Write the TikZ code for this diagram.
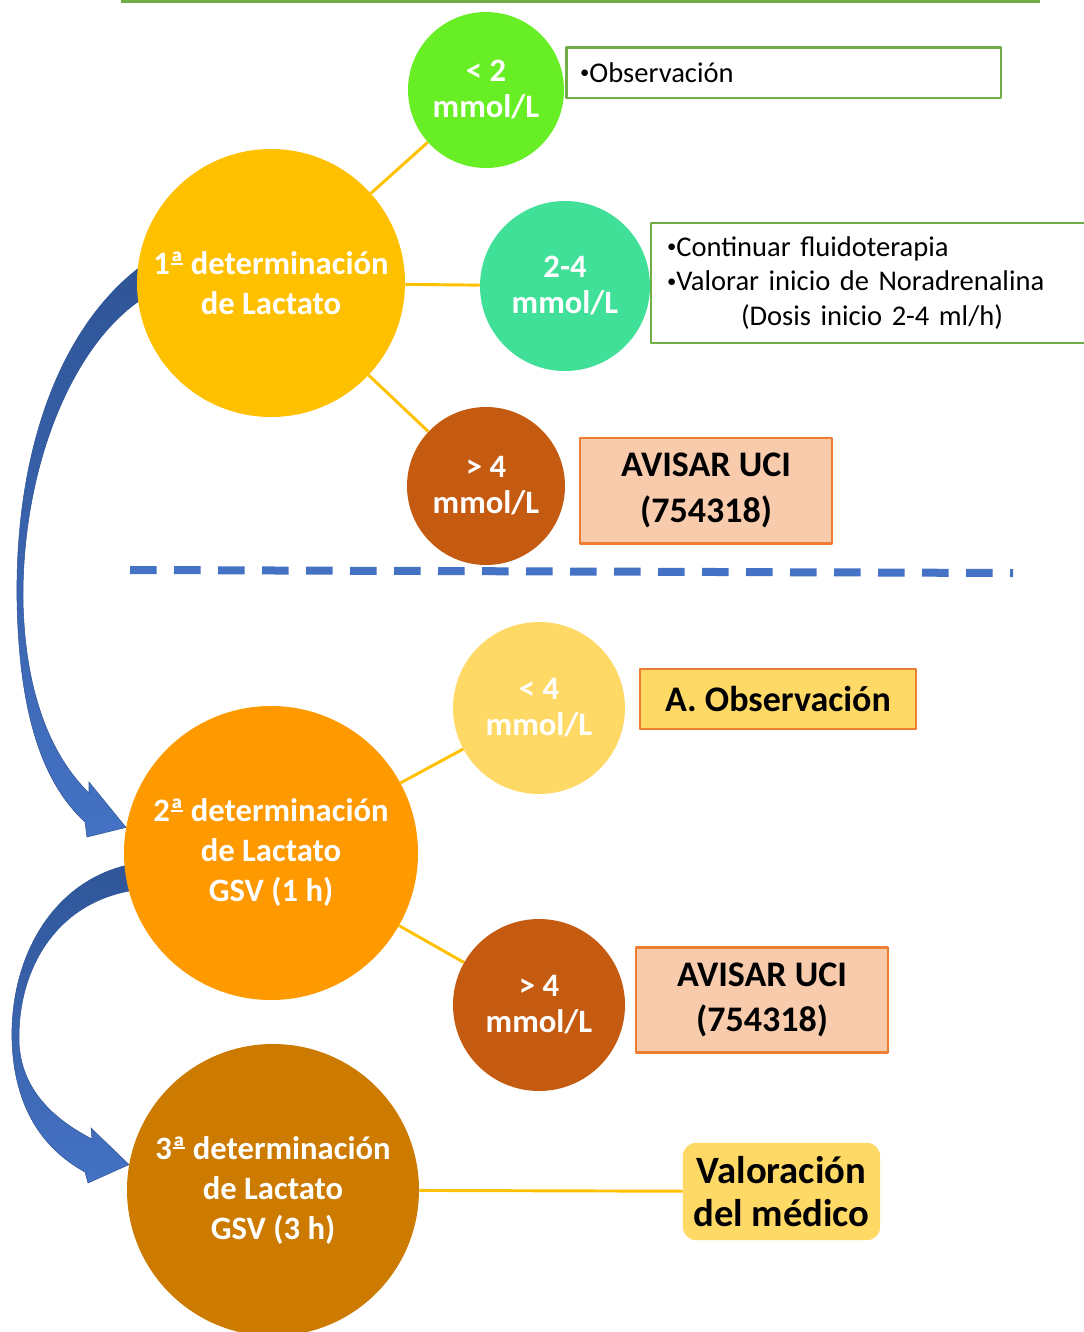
\documentclass[tikz,border=0pt]{standalone}
\usepackage{fontspec}
\setmainfont{Carlito}
\usetikzlibrary{backgrounds}
\definecolor{cgreen}{RGB}{104,238,36}
\definecolor{cteal}{RGB}{64,224,152}
\definecolor{cyel}{RGB}{255,192,0}
\definecolor{corg}{RGB}{255,153,0}
\definecolor{cbrown}{RGB}{204,122,0}
\definecolor{crust}{RGB}{197,90,17}
\definecolor{clight}{RGB}{255,217,102}
\definecolor{bgreen}{RGB}{112,173,71}
\definecolor{bpeach}{RGB}{248,203,173}
\definecolor{borange}{RGB}{237,125,49}
\definecolor{cblue}{RGB}{68,114,196}
\definecolor{cdark}{RGB}{47,85,151}
\newcommand\bul{\raisebox{2.5pt}{\fontsize{14}{14}\selectfont•}}
\newcommand\ordA{\ooalign{ª\cr\hfil\raisebox{0.3em}{\rule{0.36em}{0.06em}}\hfil\cr}}
\begin{document}
\begin{tikzpicture}[x=0.75pt,y=-0.75pt,line join=round,
    det/.style={circle,inner sep=0pt,text=white,align=center,
      font=\bfseries\fontsize{24.5}{30}\selectfont},
    lev/.style={circle,inner sep=0pt,text=white,align=center,
      font=\bfseries\fontsize{24.5}{27}\selectfont},
    note/.style={draw=bgreen,line width=2pt,fill=white,align=left,
      font=\fontsize{21.4}{26}\selectfont},
    uci/.style={draw=borange,fill=bpeach,line width=2pt,align=center,
      minimum width=189pt,minimum height=79pt,
      font=\bfseries\fontsize{27}{34}\selectfont},
    link/.style={draw=cyel,line width=2.2pt},
    bendarrow/.style={top color=cdark,bottom color=cblue,draw=cdark,line width=0.4pt}]
  \useasboundingbox (0,0) rectangle (1083,1332);

  % upper block
  \draw[bgreen,line width=2.5pt] (121,1) -- (1040,1);
  \node[det,fill=cyel,minimum size=201pt] (det1) at (271,283) {1\ordA{} determinación\\de Lactato};
  \node[lev,fill=cgreen,minimum size=117pt] (lt2) at (486,90) {< 2\\mmol/L};
  \node[lev,fill=cteal,minimum size=127.5pt] (mid) at (565,286) {2-4\\mmol/L};
  \node[lev,fill=crust,minimum size=118.5pt] (gtA) at (486,486) {> 4\\mmol/L};
  \node[note,minimum width=326pt,minimum height=38pt,text width=305pt,inner xsep=10.5pt]
    (obs) at (783.5,72.5) {\bul Observación};
  \node[note,minimum width=333pt,minimum height=90pt,text width=309pt,inner xsep=12pt]
    (fluid) at (873,283) {\bul Continuar fluidoterapia\\\bul Valorar inicio de Noradrenalina\\\hspace*{55.5pt}(Dosis inicio 2-4 ml/h)};
  \node[uci] (uciA) at (706,490.5) {AVISAR UCI\\(754318)};
  \draw[link] (det1) -- (lt2);
  \draw[link] (det1) -- (mid);
  \draw[link] (det1) -- (gtA);

  \draw[cblue,line width=6pt,dash pattern=on 20pt off 13pt] (130,570) -- (1013,573);

  % lower block
  \node[det,fill=corg,minimum size=220.5pt] (det2) at (271,853) {2\ordA{} determinación\\de Lactato\\GSV (1 h)};
  \node[lev,fill=clight,minimum size=129pt] (lt4) at (539,708) {< 4\\mmol/L};
  \node[lev,fill=crust,minimum size=129pt] (gtB) at (539,1005) {> 4\\mmol/L};
  \node[draw=borange,fill=clight,line width=2pt,minimum width=207pt,minimum height=45pt,
    font=\bfseries\fontsize{27}{34}\selectfont] (obsA) at (778,699) {A. Observación};
  \node[uci] (uciB) at (762,1000) {AVISAR UCI\\(754318)};
  \draw[link] (det2) -- (lt4);
  \draw[link] (det2) -- (gtB);

  \node[det,fill=cbrown,minimum size=219pt] (det3) at (273,1190) {3\ordA{} determinación\\de Lactato\\GSV (3 h)};
  \node[fill=clight,rounded corners=10pt,minimum width=148pt,minimum height=73pt,align=center,
    font=\bfseries\fontsize{29}{32}\selectfont] (valor) at (781.5,1191.5) {Valoración\\del médico};
  \draw[link] (det3) -- (valor);

  % curved arrows behind the circles
  \begin{pgfonlayer}{background}
    \path[bendarrow] (det1.174) .. controls (60,330) and (15,450) .. (17,600)
      .. controls (19,720) and (45,785) .. (85,822) -- (87,837) -- (det2.170)
      -- (89,782) -- (89,793) .. controls (55,760) and (25,700) .. (23,600)
      .. controls (22,470) and (70,350) .. (det1.188) -- (det1.center) -- cycle;
    \path[bendarrow] (det2.185) .. controls (50,885) and (10,960) .. (12,1040)
      .. controls (14,1110) and (45,1150) .. (85,1172) -- (88,1183) -- (det3.170)
      -- (91,1128) -- (92,1139) .. controls (55,1120) and (20,1090) .. (19,1040)
      .. controls (18,970) and (55,905) .. (det2.195) -- (det2.center) -- cycle;
  \end{pgfonlayer}
\end{tikzpicture}
\end{document}
